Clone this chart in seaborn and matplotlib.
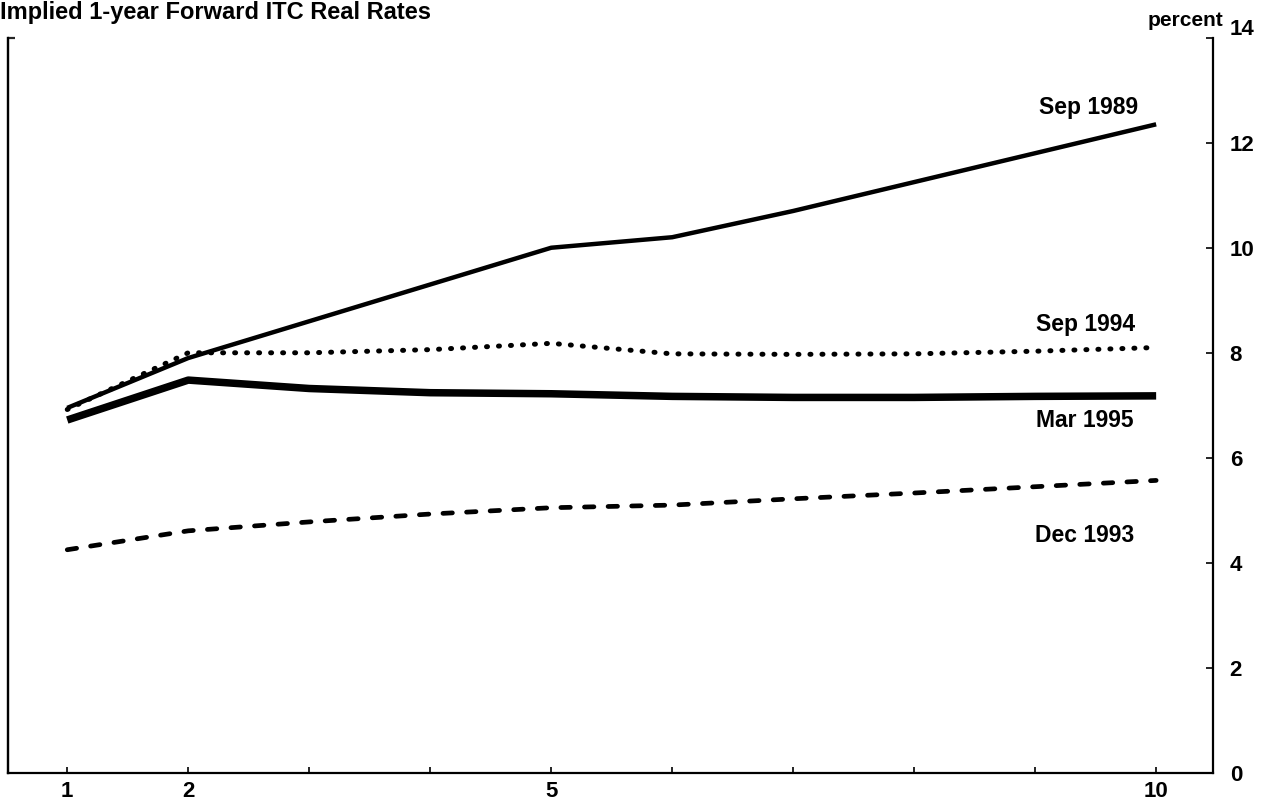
import matplotlib
matplotlib.use("Agg")
import matplotlib.pyplot as plt
import matplotlib.transforms as mtransforms
import seaborn as sns
import pandas as pd

# ---------------- data ----------------
maturity = [1, 2, 3, 4, 5, 6, 7, 8, 9, 10]
sep_1989 = [6.95, 7.90, 8.60, 9.30, 10.00, 10.20, 10.70, 11.25, 11.80, 12.35]
sep_1994 = [6.92, 8.00, 8.00, 8.06, 8.18, 7.98, 7.97, 7.98, 8.03, 8.10]
mar_1995 = [6.72, 7.48, 7.32, 7.24, 7.22, 7.17, 7.15, 7.15, 7.17, 7.18]
dec_1993 = [4.25, 4.61, 4.78, 4.93, 5.05, 5.10, 5.22, 5.33, 5.45, 5.57]
series_names = ["Sep 1989", "Sep 1994", "Mar 1995", "Dec 1993"]
x_ticks = [1, 2, 3, 4, 5, 6, 7, 8, 9, 10]
x_tick_labels = ["1", "2", "", "", "5", "", "", "", "", "10"]
y_ticks = [0, 2, 4, 6, 8, 10, 12, 14]
title_text = "Implied 1-year Forward ITC Real Rates"
unit_text = "percent"

# ---------------- style ----------------
sns.set_theme(style="white")
plt.rcParams["font.family"] = ["Liberation Sans", "DejaVu Sans"]
plt.rcParams["font.weight"] = "bold"

fig = plt.figure(figsize=(12.65, 8.01), dpi=100)
ax = fig.add_axes([0.0063, 0.035, 0.9526, 0.918])

df = pd.DataFrame({"maturity": maturity, "Sep 1989": sep_1989, "Sep 1994": sep_1994,
                   "Mar 1995": mar_1995, "Dec 1993": dec_1993})

styles = {
    "Sep 1989": dict(linewidth=3.2, linestyle="-"),
    "Sep 1994": dict(linewidth=3.6, linestyle=(0, (0.2, 2.2)), dash_capstyle="round"),
    "Mar 1995": dict(linewidth=5.4, linestyle="-"),
    "Dec 1993": dict(linewidth=3.4, linestyle=(0, (2.0, 3.0)), dash_capstyle="round"),
}
for name in series_names:
    sns.lineplot(data=df, x="maturity", y=name, ax=ax, color="black",
                 solid_capstyle="butt", **styles[name])

label_pos = {
    "Sep 1989": (9.44, 12.67),
    "Sep 1994": (9.42, 8.53),
    "Mar 1995": (9.41, 6.72),
    "Dec 1993": (9.41, 4.52),
}
for name in series_names:
    x, y = label_pos[name]
    ax.text(x, y, name, ha="center", va="center", fontsize=16.5, fontweight="bold",
            color="black")

ax.set_xlim(0.51, 10.47)
ax.set_ylim(0, 14)
ax.set_xticks(x_ticks)
ax.set_xticklabels(x_tick_labels)
ax.set_yticks(y_ticks)
ax.set_yticklabels([str(v) for v in y_ticks])
ax.yaxis.tick_right()
ax.set_xlabel("")
ax.set_ylabel("")

for side in ["left", "bottom", "right"]:
    ax.spines[side].set_visible(True)
    ax.spines[side].set_color("black")
    ax.spines[side].set_linewidth(1.6)
ax.spines["top"].set_visible(False)

ax.tick_params(axis="x", direction="in", length=4, width=1.2, pad=6,
               labelsize=16, colors="black", bottom=True)
ax.tick_params(axis="y", direction="in", length=5, width=1.2, pad=12,
               labelsize=16, colors="black", right=True, left=False)
for lab in ax.get_xticklabels() + ax.get_yticklabels():
    lab.set_fontweight("bold")

# the top value label sits a little above its tick in the original
top_tick = ax.yaxis.get_major_ticks()[-1]
top_tick.label2.set_transform(top_tick.label2.get_transform() +
                              mtransforms.ScaledTranslation(0, 0.11, fig.dpi_scale_trans))

sec = ax.secondary_yaxis("left")
sec.set_yticks([14])
sec.set_yticklabels([""])
sec.tick_params(direction="in", length=5, width=1.6)
sec.spines["left"].set_linewidth(1.6)

fig.text(0.0, 0.984, title_text, ha="left", va="center", fontsize=17,
         fontweight="bold", color="black")
fig.text(0.937, 0.974, unit_text, ha="center", va="center", fontsize=15,
         fontweight="bold", color="black")

fig.savefig("out.png", dpi=100)
